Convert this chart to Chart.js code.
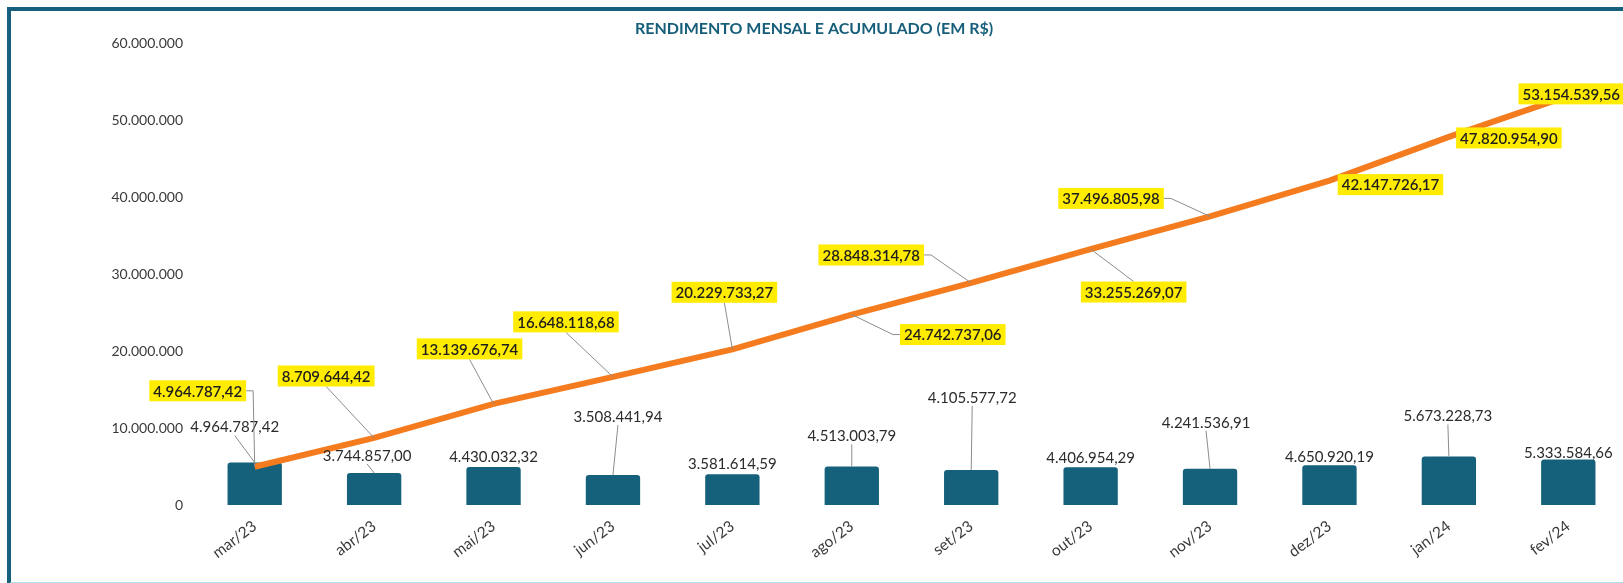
<!DOCTYPE html>
<html>
<head>
<meta charset="utf-8">
<script src="https://cdn.jsdelivr.net/npm/chart.js@4"></script>
<style>
  html, body { margin: 0; padding: 0; background: #fff; overflow: hidden; width: 1623px; height: 583px; }
  #wrap { position: relative; width: 1623px; height: 583px; overflow: hidden; }
  #rendChart { position: absolute; left: 0; top: 0; }
  #frame {
    position: absolute; left: 7px; top: 7px; width: 1613px; height: 571px;
    border-top: 4px solid #17607d; border-left: 4px solid #17607d;
    border-bottom: 3px solid #a9def0; border-right: 2px solid #d3ecf4;
    pointer-events: none;
  }
</style>
</head>
<body>
<div id="wrap">
  <canvas id="rendChart" width="1628" height="583"></canvas>
  <div id="frame"></div>
</div>
<script>
// Rendimento mensal e acumulado
const months = ["mar/23", "abr/23", "mai/23", "jun/23", "jul/23", "ago/23",
                "set/23", "out/23", "nov/23", "dez/23", "jan/24", "fev/24"];
const monthly = [4964787.42, 3744857.00, 4430032.32, 3508441.94, 3581614.59, 4513003.79,
                 4105577.72, 4406954.29, 4241536.91, 4650920.19, 5673228.73, 5333584.66];
const accumulated = [4964787.42, 8709644.42, 13139676.74, 16648118.68, 20229733.27, 24742737.06,
                     28848314.78, 33255269.07, 37496805.98, 42147726.17, 47820954.90, 53154539.56];
const yTicks = [0, 10000000, 20000000, 30000000, 40000000, 50000000, 60000000];

// where each data label sits relative to its point (px), as placed in the original
const lineLabelOffsets = [[-57, -76], [-48, -62], [-24, -55], [-47, -55], [-8, -57], [101, 20],
                          [-100, -28], [43, 43], [-99, -18], [61, 4], [60, 1], [3, -2]];
const barLabelOffsets = [[-20, -36], [-7, -18], [0, -11], [5, -59], [0, -11], [0, -31],
                         [1, -73], [0, -10], [-4, -47], [0, -9], [-1, -41], [0, -7]];

const FONT = "Lato, 'Noto Sans', sans-serif";

function fmtBR(v, dec) {
  const parts = v.toFixed(dec).split(".");
  const int = parts[0].replace(/\B(?=(\d{3})+(?!\d))/g, ".");
  return dec ? int + "," + parts[1] : int;
}

function drawLeader(ctx, box, tx, ty) {
  const cx = (box.l + box.r) / 2, cy = (box.t + box.b) / 2;
  let pts = [];
  if (tx > box.r) pts = [[box.r, cy], [box.r + 7, cy], [tx, ty]];
  else if (tx < box.l) pts = [[box.l, cy], [box.l - 7, cy], [tx, ty]];
  else if (ty > box.b) pts = [[cx, box.b], [tx, ty]];
  else if (ty < box.t) pts = [[cx, box.t], [tx, ty]];
  if (!pts.length) return;
  const a = pts[pts.length - 2], b = pts[pts.length - 1];
  if (Math.hypot(b[0] - a[0], b[1] - a[1]) < 8) return;
  ctx.save();
  ctx.strokeStyle = "#8c8c8c";
  ctx.lineWidth = 1;
  ctx.beginPath();
  ctx.moveTo(pts[0][0], pts[0][1]);
  for (let i = 1; i < pts.length; i++) ctx.lineTo(pts[i][0], pts[i][1]);
  ctx.stroke();
  ctx.restore();
}

const labelPlugin = {
  id: "labelPlugin",
  afterDatasetsDraw(chart) {
    const ctx = chart.ctx;
    ctx.save();
    ctx.textAlign = "center";
    ctx.textBaseline = "middle";

    // monthly bars: plain text
    const barMeta = chart.getDatasetMeta(1);
    ctx.font = "15px " + FONT;
    barMeta.data.forEach((el, i) => {
      const txt = fmtBR(monthly[i], 2);
      const x = el.x + barLabelOffsets[i][0], y = el.y + barLabelOffsets[i][1];
      const w = ctx.measureText(txt).width;
      const box = { l: x - w / 2, r: x + w / 2, t: y - 9, b: y + 9 };
      drawLeader(ctx, box, el.x, el.y);
      ctx.fillStyle = "#2b2b2b";
      ctx.fillText(txt, x, y + 1);
    });

    // accumulated line: yellow boxes
    const lineMeta = chart.getDatasetMeta(0);
    ctx.font = "600 15px " + FONT;
    lineMeta.data.forEach((el, i) => {
      const txt = fmtBR(accumulated[i], 2);
      const x = el.x + lineLabelOffsets[i][0], y = el.y + lineLabelOffsets[i][1];
      const w = ctx.measureText(txt).width + 8;
      const box = { l: x - w / 2, r: x + w / 2, t: y - 10.5, b: y + 10.5 };
      drawLeader(ctx, box, el.x, el.y);
      ctx.fillStyle = "#ffec00";
      ctx.fillRect(box.l, box.t, w, 21);
      ctx.fillStyle = "#1e1e1e";
      ctx.fillText(txt, x, y + 1);
    });
    ctx.restore();
  }
};

const rendCtx = document.getElementById("rendChart");

new Chart(rendCtx, {
  data: {
    labels: months,
    datasets: [{
      type: "line",
      label: "Acumulado",
      data: accumulated,
      borderColor: "#f47c1e",
      borderWidth: 6,
      pointRadius: 0,
      tension: 0,
      yAxisID: "y",
      order: 0
    }, {
      type: "bar",
      label: "Mensal",
      data: monthly,
      backgroundColor: "#15607a",
      borderRadius: 3,
      borderSkipped: "bottom",
      categoryPercentage: 1,
      barPercentage: 0.455,
      yAxisID: "y1",
      order: 1
    }]
  },
  options: {
    responsive: false,
    animation: false,
    layout: { padding: 0 },
    plugins: {
      legend: { display: false },
      tooltip: { enabled: false },
      title: {
        display: true,
        text: "RENDIMENTO MENSAL E ACUMULADO (EM R$)",
        color: "#175e7a",
        font: { family: FONT, size: 16, weight: "bold" },
        padding: { top: 19, bottom: 5 }
      }
    },
    scales: {
      x: {
        grid: { display: false, drawTicks: false },
        border: { display: false },
        ticks: {
          color: "#3a3a3a",
          font: { family: FONT, size: 15.5 },
          minRotation: 37,
          maxRotation: 37,
          padding: 12
        },
        afterFit(scale) { scale.height = 78; }
      },
      y: {
        min: 0,
        max: 60000000,
        grid: { display: false, drawTicks: false },
        border: { display: false },
        afterBuildTicks(scale) { scale.ticks = yTicks.map(v => ({ value: v })); },
        ticks: {
          color: "#3a3a3a",
          font: { family: FONT, size: 14 },
          padding: 12,
          callback: v => fmtBR(v, 0)
        },
        afterFit(scale) { scale.width = 195; }
      },
      y1: {
        display: false,
        min: 0,
        max: 54000000
      }
    }
  },
  plugins: [labelPlugin]
});
</script>
</body>
</html>
